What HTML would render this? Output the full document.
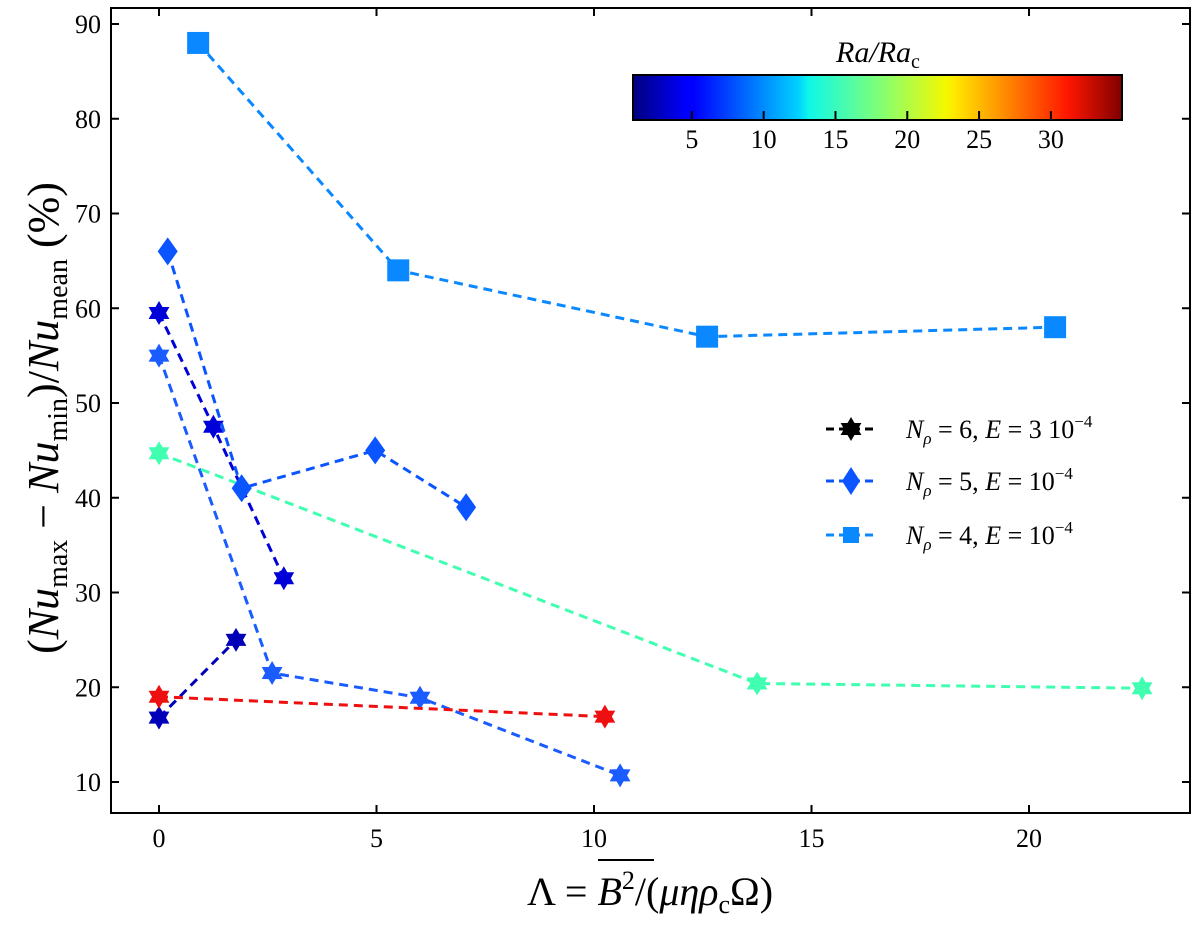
<!DOCTYPE html>
<html><head><meta charset="utf-8"><style>
html,body{margin:0;padding:0;background:#fff;}
svg{display:block;font-family:"Liberation Serif",serif;}
</style></head><body>
<svg id="chart" width="1200" height="928" viewBox="0 0 1200 928" xmlns="http://www.w3.org/2000/svg">
<defs>
<linearGradient id="jet" x1="0" x2="1" y1="0" y2="0">
<stop offset="0" stop-color="#00007f"/><stop offset="0.11" stop-color="#0000ff"/>
<stop offset="0.125" stop-color="#0000ff"/><stop offset="0.34" stop-color="#00d4ff"/>
<stop offset="0.36" stop-color="#0ff8e8"/><stop offset="0.5" stop-color="#7dff7a"/>
<stop offset="0.64" stop-color="#f4f800"/><stop offset="0.66" stop-color="#ffe600"/>
<stop offset="0.89" stop-color="#ff1600"/><stop offset="1" stop-color="#7f0000"/>
</linearGradient>
</defs>
<g id="plot"></g>
<rect x="111" y="8" width="1079" height="805" fill="none" stroke="#000" stroke-width="2"/>
<g id="axes"></g>
<text x="650" y="905" font-size="40" text-anchor="middle">Λ = <tspan font-style="italic">B</tspan><tspan font-size="26" dy="-16">2</tspan><tspan dy="16">/(</tspan><tspan font-style="italic">μηρ</tspan><tspan font-size="26" dy="8">c</tspan><tspan dy="-8">Ω)</tspan></text>
<line x1="598" y1="860" x2="654" y2="860" stroke="#000" stroke-width="2"/>
<text transform="translate(58,418) rotate(-90)" font-size="44" text-anchor="middle">(<tspan font-style="italic">Nu</tspan><tspan font-size="28" dy="9">max</tspan><tspan dy="-9"> − </tspan><tspan font-style="italic">Nu</tspan><tspan font-size="28" dy="9">min</tspan><tspan dy="-9">)/</tspan><tspan font-style="italic">Nu</tspan><tspan font-size="28" dy="9">mean</tspan><tspan dy="-9"> (%)</tspan></text>
<g>
<text x="878" y="62" font-size="30" text-anchor="middle" font-style="italic">Ra/Ra<tspan font-size="20" font-style="normal" dy="6">c</tspan></text>
<rect x="633" y="75" width="489" height="45" fill="url(#jet)" stroke="#000" stroke-width="2"/>
<g id="cbticks"></g>
</g>
<g font-size="26">
<g>
<line x1="826" y1="429" x2="876" y2="429" stroke="#000" stroke-width="3" stroke-dasharray="8,5"/>
<polygon id="lgstar" fill="#000" points=""/>
<text x="906" y="438"><tspan font-style="italic">N</tspan><tspan font-size="17" font-style="italic" dy="6">ρ</tspan><tspan dy="-6"> = 6, </tspan><tspan font-style="italic">E</tspan> = 3 10<tspan font-size="17" dy="-11">−4</tspan></text>
</g>
<g>
<line x1="826" y1="481" x2="876" y2="481" stroke="#0a55ff" stroke-width="3" stroke-dasharray="8,5"/>
<polygon points="851,467 860,481 851,495 842,481" fill="#0a55ff"/>
<text x="906" y="490"><tspan font-style="italic">N</tspan><tspan font-size="17" font-style="italic" dy="6">ρ</tspan><tspan dy="-6"> = 5, </tspan><tspan font-style="italic">E</tspan> = 10<tspan font-size="17" dy="-11">−4</tspan></text>
</g>
<g>
<line x1="826" y1="535" x2="876" y2="535" stroke="#0a88ff" stroke-width="3" stroke-dasharray="8,5"/>
<rect x="843" y="527" width="16" height="16" fill="#0a88ff"/>
<text x="906" y="544"><tspan font-style="italic">N</tspan><tspan font-size="17" font-style="italic" dy="6">ρ</tspan><tspan dy="-6"> = 4, </tspan><tspan font-style="italic">E</tspan> = 10<tspan font-size="17" dy="-11">−4</tspan></text>
</g>
</g>
</svg>
<script>
const xTicks=[0,5,10,15,20];
const yTicks=[10,20,30,40,50,60,70,80,90];
const cbTicks=[5,10,15,20,25,30];
const seriesColors=["#0000d8","#0000b8","#1a5cff","#40ffb0","#ee1010","#0a55ff","#0a88ff"];
const seriesMarkers=["star","star","star","star","star","diamond","square"];
const s1x=[0,1.25,2.87], s1y=[59.5,47.5,31.5];
const s2x=[0,1.77], s2y=[16.8,25];
const s3x=[0,2.6,6,10.6], s3y=[55,21.5,18.9,10.7];
const s4x=[0,13.75,22.6], s4y=[44.7,20.4,19.9];
const s5x=[0,10.25], s5y=[19,16.9];
const s6x=[0.2,1.9,4.97,7.06], s6y=[66,41,45,39];
const s7x=[0.9,5.5,12.6,20.6], s7y=[88,64,57,58];
const allX=[s1x,s2x,s3x,s4x,s5x,s6x,s7x], allY=[s1y,s2y,s3y,s4y,s5y,s6y,s7y];
const NS="http://www.w3.org/2000/svg";
function X(v){return 159+43.5*v;}
function Y(v){return 782-(v-10)*9.475;}
function CB(v){return 633+(v-0.9)*14.36;}
function mk(t,a){const e=document.createElementNS(NS,t);for(const k in a)e.setAttribute(k,a[k]);return e;}
function starPts(cx,cy,R){let p=[];for(let i=0;i<12;i++){const r=i%2?R*0.58:R;const a=Math.PI/6*i-Math.PI/2;p.push((cx+r*Math.cos(a)).toFixed(1)+","+(cy+r*Math.sin(a)).toFixed(1));}return p.join(" ");}
document.getElementById('lgstar').setAttribute('points',starPts(851,429,12));
const axes=document.getElementById('axes');
xTicks.forEach(v=>{
 const x=X(v);
 axes.appendChild(mk('line',{x1:x,y1:813,x2:x,y2:805,stroke:'#000','stroke-width':2}));
 axes.appendChild(mk('line',{x1:x,y1:8,x2:x,y2:16,stroke:'#000','stroke-width':2}));
 const t=mk('text',{x:x,y:847,'font-size':26,'text-anchor':'middle'});t.textContent=v;
 
 
 axes.appendChild(t);
});
yTicks.forEach(v=>{
 const y=Y(v);
 axes.appendChild(mk('line',{x1:111,y1:y,x2:119,y2:y,stroke:'#000','stroke-width':2}));
 axes.appendChild(mk('line',{x1:1190,y1:y,x2:1182,y2:y,stroke:'#000','stroke-width':2}));
 const t=mk('text',{x:101,y:y+9,'font-size':26,'text-anchor':'end'});t.textContent=v;
 
 
 axes.appendChild(t);
});
const cb=document.getElementById('cbticks');
cbTicks.forEach(v=>{
 const x=CB(v);
 cb.appendChild(mk('line',{x1:x,y1:120,x2:x,y2:111,stroke:'#000','stroke-width':2}));
 const t=mk('text',{x:x,y:148,'font-size':26,'text-anchor':'middle'});t.textContent=v;
 
 
 cb.appendChild(t);
});
const plot=document.getElementById('plot');
allX.forEach((xs,i)=>{
 const c=seriesColors[i];
 const g=mk('g',{});
 
 
 const pts=xs.map((x,j)=>X(x)+","+Y(allY[i][j])).join(" ");
 g.appendChild(mk('polyline',{points:pts,fill:'none',stroke:c,'stroke-width':3,'stroke-dasharray':'9,6'}));
 xs.forEach((x,j)=>{
  const cx=X(x),cy=Y(allY[i][j]);let m;
  if(seriesMarkers[i]==='star')m=mk('polygon',{points:starPts(cx,cy,12),fill:c});
  else if(seriesMarkers[i]==='diamond')m=mk('polygon',{points:`${cx},${cy-14} ${cx+10},${cy} ${cx},${cy+14} ${cx-10},${cy}`,fill:c});
  else m=mk('rect',{x:cx-11,y:cy-11,width:22,height:22,fill:c});
  
  
  g.appendChild(m);
 });
 plot.appendChild(g);
});
</script>
</body></html>
